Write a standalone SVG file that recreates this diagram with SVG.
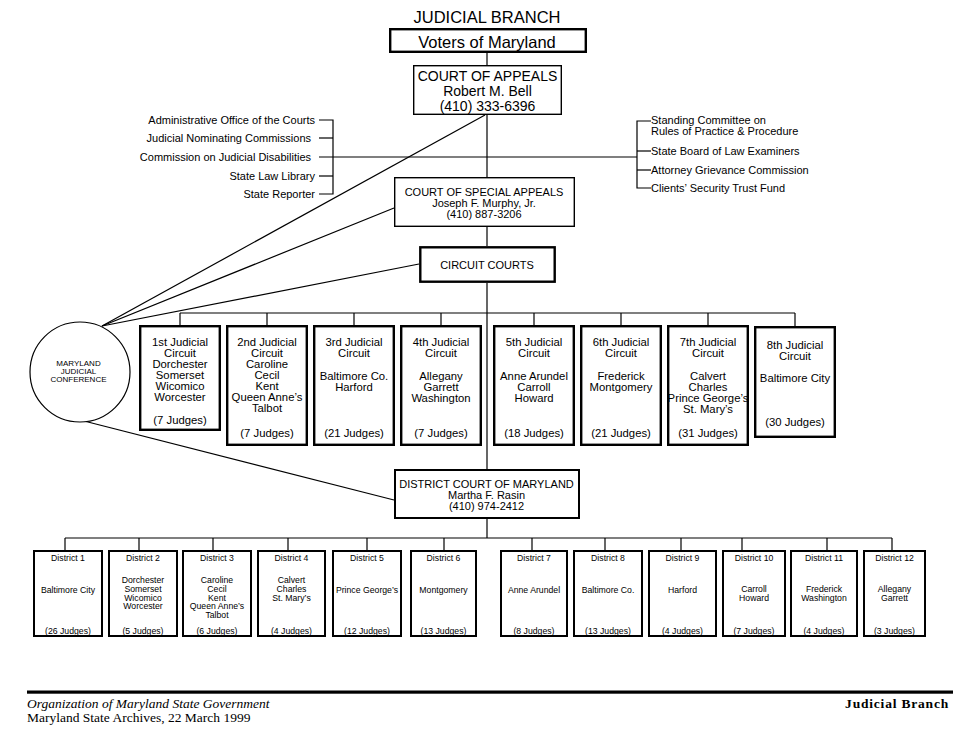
<svg xmlns="http://www.w3.org/2000/svg" width="973" height="736" viewBox="0 0 973 736">
<style>
text{font-family:"Liberation Sans",Arial,sans-serif;fill:#000}
.c{text-anchor:middle}
.e{text-anchor:end}
.s11{font-size:11px}
.s113{font-size:11.3px;text-anchor:middle}
.s87{font-size:8.7px;text-anchor:middle}
.s8{font-size:8px;text-anchor:middle}
.thin{fill:#fff;stroke:#000;stroke-width:1.4}
.thick{fill:#fff;stroke:#000;stroke-width:2.4}
.dbox{fill:#fff;stroke:#000;stroke-width:2}
.ln{stroke:#000;stroke-width:1.2;fill:none}
.ft{font-family:"Liberation Serif","Times New Roman",serif;font-size:13.5px}
</style>
<rect width="973" height="736" fill="#fff"/>

<g id="connectors">
<line class="ln" x1="487" y1="53" x2="487" y2="65"/>
<line class="ln" x1="487" y1="115" x2="487" y2="177"/>
<line class="ln" x1="487" y1="227" x2="487" y2="246"/>
<line class="ln" x1="487" y1="283" x2="487" y2="469"/>
<line class="ln" x1="487" y1="519" x2="487" y2="538"/>
<line class="ln" x1="319" y1="157" x2="637" y2="157"/>
<polyline class="ln" points="319,120 333,120 333,194 319,194"/>
<line class="ln" x1="319" y1="138" x2="333" y2="138"/>
<line class="ln" x1="319" y1="176" x2="333" y2="176"/>
<polyline class="ln" points="651,121 637,121 637,188 651,188"/>
<line class="ln" x1="637" y1="151" x2="651" y2="151"/>
<line class="ln" x1="637" y1="170" x2="651" y2="170"/>
<line class="ln" x1="102" y1="326" x2="485" y2="115"/>
<line class="ln" x1="102" y1="326" x2="394" y2="208"/>
<line class="ln" x1="102" y1="326" x2="419" y2="264"/>
<line class="ln" x1="84" y1="421" x2="394" y2="500"/>
<line class="ln" x1="180" y1="313" x2="795" y2="313"/>
<line class="ln" x1="180" y1="313" x2="180" y2="325"/>
<line class="ln" x1="267" y1="313" x2="267" y2="325"/>
<line class="ln" x1="354" y1="313" x2="354" y2="325"/>
<line class="ln" x1="441" y1="313" x2="441" y2="325"/>
<line class="ln" x1="534" y1="313" x2="534" y2="325"/>
<line class="ln" x1="621" y1="313" x2="621" y2="325"/>
<line class="ln" x1="708" y1="313" x2="708" y2="325"/>
<line class="ln" x1="795" y1="313" x2="795" y2="326"/>
<line class="ln" x1="65" y1="538" x2="892" y2="538"/>
<line class="ln" x1="65" y1="538" x2="65" y2="550"/>
<line class="ln" x1="139" y1="538" x2="139" y2="550"/>
<line class="ln" x1="213" y1="538" x2="213" y2="550"/>
<line class="ln" x1="288" y1="538" x2="288" y2="550"/>
<line class="ln" x1="367" y1="538" x2="367" y2="550"/>
<line class="ln" x1="444" y1="538" x2="444" y2="550"/>
<line class="ln" x1="532" y1="538" x2="532" y2="550"/>
<line class="ln" x1="605" y1="538" x2="605" y2="550"/>
<line class="ln" x1="681" y1="538" x2="681" y2="550"/>
<line class="ln" x1="742" y1="538" x2="742" y2="550"/>
<line class="ln" x1="827" y1="538" x2="827" y2="550"/>
<line class="ln" x1="892" y1="538" x2="892" y2="550"/>
</g>

<g id="title"><text class="c" x="487" y="23" font-size="16.5">JUDICIAL BRANCH</text></g>

<g id="voters">
<rect class="thick" x="390.2" y="29.2" width="195.6" height="22.6"/>
<text class="c" x="487" y="47.5" font-size="16.5">Voters of Maryland</text>
</g>

<g id="court-of-appeals">
<rect class="thin" x="413.7" y="65.7" width="147.6" height="48.6"/>
<text class="c" x="487.5" y="81" font-size="14">COURT OF APPEALS</text>
<text class="c" x="487.5" y="96" font-size="14">Robert M. Bell</text>
<text class="c" x="487.5" y="111" font-size="14">(410) 333-6396</text>
</g>

<g id="left-offices" class="s11">
<text class="e" x="315" y="124">Administrative Office of the Courts</text>
<text class="e" x="311" y="142">Judicial Nominating Commissions</text>
<text class="e" x="311" y="161">Commission on Judicial Disabilities</text>
<text class="e" x="315" y="180">State Law Library</text>
<text class="e" x="315" y="198">State Reporter</text>
</g>

<g id="right-offices" class="s11">
<text x="651" y="124">Standing Committee on</text>
<text x="651" y="135">Rules of Practice &amp; Procedure</text>
<text x="651" y="155">State Board of Law Examiners</text>
<text x="651" y="174">Attorney Grievance Commission</text>
<text x="651" y="192">Clients’ Security Trust Fund</text>
</g>

<g id="court-of-special-appeals">
<rect class="thin" x="394.7" y="177.7" width="179.6" height="48.6"/>
<text class="c s11" x="484" y="196">COURT OF SPECIAL APPEALS</text>
<text class="c s11" x="484" y="207">Joseph F. Murphy, Jr.</text>
<text class="c s11" x="484" y="218">(410) 887-3206</text>
</g>

<g id="circuit-courts">
<rect class="thick" x="420.3" y="247.3" width="134.4" height="34.4" stroke-width="2.6"/>
<text class="c s11" x="487" y="269">CIRCUIT COURTS</text>
</g>

<g id="conference">
<circle cx="80" cy="372" r="50" fill="#fff" stroke="#000" stroke-width="1.2"/>
<text class="s8" x="78.5" y="366">MARYLAND</text>
<text class="s8" x="78.5" y="374">JUDICIAL</text>
<text class="s8" x="78.5" y="382">CONFERENCE</text>
</g>

<g id="circuit-1">
<rect class="thick" x="140.2" y="326.2" width="79.6" height="103.6"/>
<text class="s113" x="180" y="346">1st Judicial</text>
<text class="s113" x="180" y="357">Circuit</text>
<text class="s113" x="180" y="368">Dorchester</text>
<text class="s113" x="180" y="379">Somerset</text>
<text class="s113" x="180" y="390">Wicomico</text>
<text class="s113" x="180" y="401">Worcester</text>
<text class="s113" x="180" y="424">(7 Judges)</text>
</g>
<g id="circuit-2">
<rect class="thick" x="227.2" y="326.2" width="79.6" height="118.6"/>
<text class="s113" x="267" y="346">2nd Judicial</text>
<text class="s113" x="267" y="357">Circuit</text>
<text class="s113" x="267" y="368">Caroline</text>
<text class="s113" x="267" y="379">Cecil</text>
<text class="s113" x="267" y="390">Kent</text>
<text class="s113" x="267" y="401">Queen Anne’s</text>
<text class="s113" x="267" y="412">Talbot</text>
<text class="s113" x="267" y="437">(7 Judges)</text>
</g>
<g id="circuit-3">
<rect class="thick" x="314.2" y="326.2" width="79.6" height="118.6"/>
<text class="s113" x="354" y="346">3rd Judicial</text>
<text class="s113" x="354" y="357">Circuit</text>
<text class="s113" x="354" y="380">Baltimore Co.</text>
<text class="s113" x="354" y="391">Harford</text>
<text class="s113" x="354" y="437">(21 Judges)</text>
</g>
<g id="circuit-4">
<rect class="thick" x="401.2" y="326.2" width="79.6" height="118.6"/>
<text class="s113" x="441" y="346">4th Judicial</text>
<text class="s113" x="441" y="357">Circuit</text>
<text class="s113" x="441" y="380">Allegany</text>
<text class="s113" x="441" y="391">Garrett</text>
<text class="s113" x="441" y="402">Washington</text>
<text class="s113" x="441" y="437">(7 Judges)</text>
</g>
<g id="circuit-5">
<rect class="thick" x="494.2" y="326.2" width="79.6" height="118.6"/>
<text class="s113" x="534" y="346">5th Judicial</text>
<text class="s113" x="534" y="357">Circuit</text>
<text class="s113" x="534" y="380">Anne Arundel</text>
<text class="s113" x="534" y="391">Carroll</text>
<text class="s113" x="534" y="402">Howard</text>
<text class="s113" x="534" y="437">(18 Judges)</text>
</g>
<g id="circuit-6">
<rect class="thick" x="581.2" y="326.2" width="79.6" height="118.6"/>
<text class="s113" x="621" y="346">6th Judicial</text>
<text class="s113" x="621" y="357">Circuit</text>
<text class="s113" x="621" y="380">Frederick</text>
<text class="s113" x="621" y="391">Montgomery</text>
<text class="s113" x="621" y="437">(21 Judges)</text>
</g>
<g id="circuit-7">
<rect class="thick" x="668.2" y="326.2" width="79.6" height="118.6"/>
<text class="s113" x="708" y="346">7th Judicial</text>
<text class="s113" x="708" y="357">Circuit</text>
<text class="s113" x="708" y="380">Calvert</text>
<text class="s113" x="708" y="391">Charles</text>
<text class="s113" x="708" y="402">Prince George’s</text>
<text class="s113" x="708" y="413">St. Mary’s</text>
<text class="s113" x="708" y="437">(31 Judges)</text>
</g>
<g id="circuit-8">
<rect class="thick" x="755.2" y="327.2" width="79.6" height="109.6"/>
<text class="s113" x="795" y="349">8th Judicial</text>
<text class="s113" x="795" y="360">Circuit</text>
<text class="s113" x="795" y="382">Baltimore City</text>
<text class="s113" x="795" y="426">(30 Judges)</text>
</g>

<g id="district-court">
<rect class="dbox" x="395" y="470" width="184" height="48"/>
<text class="c s11" x="486.5" y="488">DISTRICT COURT OF MARYLAND</text>
<text class="c s11" x="486.5" y="499">Martha F. Rasin</text>
<text class="c s11" x="486.5" y="509.5">(410) 974-2412</text>
</g>

<g id="district-1">
<rect class="dbox" x="34" y="551" width="68" height="85"/>
<text class="s87" x="68" y="561">District 1</text>
<text class="s87" x="68" y="593">Baltimore City</text>
<text class="s87" x="68" y="633.5">(26 Judges)</text>
</g>
<g id="district-2">
<rect class="dbox" x="109" y="551" width="68" height="85"/>
<text class="s87" x="143" y="561">District 2</text>
<text class="s87" x="143" y="583">Dorchester</text>
<text class="s87" x="143" y="592">Somerset</text>
<text class="s87" x="143" y="600.5">Wicomico</text>
<text class="s87" x="143" y="609">Worcester</text>
<text class="s87" x="143" y="633.5">(5 Judges)</text>
</g>
<g id="district-3">
<rect class="dbox" x="183" y="551" width="68" height="85"/>
<text class="s87" x="217" y="561">District 3</text>
<text class="s87" x="217" y="583">Caroline</text>
<text class="s87" x="217" y="591.5">Cecil</text>
<text class="s87" x="217" y="600.5">Kent</text>
<text class="s87" x="217" y="609">Queen Anne’s</text>
<text class="s87" x="217" y="618">Talbot</text>
<text class="s87" x="217" y="633.5">(6 Judges)</text>
</g>
<g id="district-4">
<rect class="dbox" x="258" y="551" width="67" height="85"/>
<text class="s87" x="291.5" y="561">District 4</text>
<text class="s87" x="291.5" y="583">Calvert</text>
<text class="s87" x="291.5" y="591.5">Charles</text>
<text class="s87" x="291.5" y="600.5">St. Mary’s</text>
<text class="s87" x="291.5" y="633.5">(4 Judges)</text>
</g>
<g id="district-5">
<rect class="dbox" x="333" y="551" width="68" height="85"/>
<text class="s87" x="367" y="561">District 5</text>
<text class="s87" x="367" y="593">Prince George’s</text>
<text class="s87" x="367" y="633.5">(12 Judges)</text>
</g>
<g id="district-6">
<rect class="dbox" x="411" y="551" width="65" height="85"/>
<text class="s87" x="443.5" y="561">District 6</text>
<text class="s87" x="443.5" y="593">Montgomery</text>
<text class="s87" x="443.5" y="633.5">(13 Judges)</text>
</g>
<g id="district-7">
<rect class="dbox" x="501" y="551" width="66" height="85"/>
<text class="s87" x="534" y="561">District 7</text>
<text class="s87" x="534" y="593">Anne Arundel</text>
<text class="s87" x="534" y="633.5">(8 Judges)</text>
</g>
<g id="district-8">
<rect class="dbox" x="574" y="551" width="68" height="85"/>
<text class="s87" x="608" y="561">District 8</text>
<text class="s87" x="608" y="593">Baltimore Co.</text>
<text class="s87" x="608" y="633.5">(13 Judges)</text>
</g>
<g id="district-9">
<rect class="dbox" x="649" y="551" width="67" height="85"/>
<text class="s87" x="682.5" y="561">District 9</text>
<text class="s87" x="682.5" y="593">Harford</text>
<text class="s87" x="682.5" y="633.5">(4 Judges)</text>
</g>
<g id="district-10">
<rect class="dbox" x="723" y="551" width="62" height="85"/>
<text class="s87" x="754" y="561">District 10</text>
<text class="s87" x="754" y="592">Carroll</text>
<text class="s87" x="754" y="601">Howard</text>
<text class="s87" x="754" y="633.5">(7 Judges)</text>
</g>
<g id="district-11">
<rect class="dbox" x="791" y="551" width="66" height="85"/>
<text class="s87" x="824" y="561">District 11</text>
<text class="s87" x="824" y="592">Frederick</text>
<text class="s87" x="824" y="601">Washington</text>
<text class="s87" x="824" y="633.5">(4 Judges)</text>
</g>
<g id="district-12">
<rect class="dbox" x="864" y="551" width="61" height="85"/>
<text class="s87" x="894.5" y="561">District 12</text>
<text class="s87" x="894.5" y="592">Allegany</text>
<text class="s87" x="894.5" y="601">Garrett</text>
<text class="s87" x="894.5" y="633.5">(3 Judges)</text>
</g>

<g id="footer">
<rect x="27" y="690.5" width="926" height="3.2" fill="#000"/>
<text class="ft" x="27" y="708" font-style="italic">Organization of Maryland State Government</text>
<text class="ft" x="27" y="722">Maryland State Archives, 22 March 1999</text>
<text class="ft" x="949" y="708" font-weight="bold" text-anchor="end" letter-spacing="0.8">Judicial Branch</text>
</g>
</svg>
